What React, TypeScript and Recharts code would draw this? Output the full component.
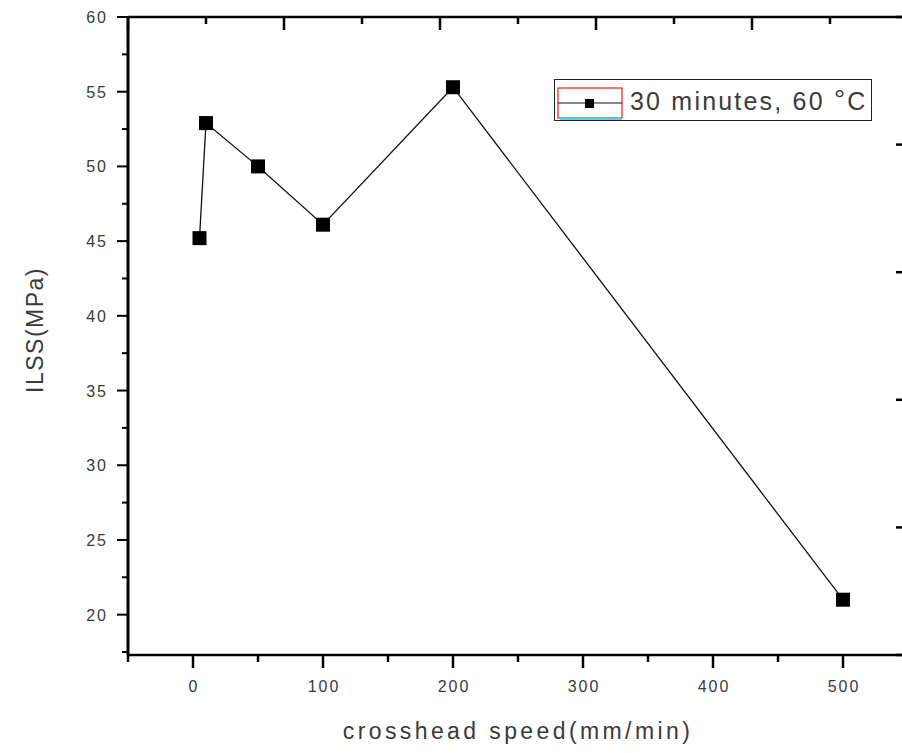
import { LineChart, Line, XAxis, YAxis, Legend, ReferenceLine } from "recharts"

// crosshead speed (mm/min) vs ILSS (MPa)
const speeds = [5, 10, 50, 100, 200, 500]
const ilss = [45.2, 52.9, 50.0, 46.1, 55.3, 21.0]
const seriesName = "30 minutes, 60 °C"

const xTicks = [-50, 0, 50, 100, 150, 200, 250, 300, 350, 400, 450, 500, 550]
const xLabelled = [0, 100, 200, 300, 400, 500]
const yTicks = [17.5, 20, 22.5, 25, 27.5, 30, 32.5, 35, 37.5, 40, 42.5, 45, 47.5, 50, 52.5, 55, 57.5, 60]
const yLabelled = [20, 25, 30, 35, 40, 45, 50, 55, 60]
// the top frame carries an unlabelled scale of its own (ten steps across)
const topMajorTicks = [-50, 70, 190, 310, 430, 550]
const topMinorTicks = [10, 130, 250, 370, 490]
const rightTicks = [0, 0.5, 1, 1.5, 2, 2.5, 3, 3.5, 4, 4.5, 5]

const data = speeds.map((s, i) => ({ speed: s, ilss: ilss[i] }))

const FONT = "'Liberation Sans', Arial, sans-serif"
const TEXT = "#3a3a3a"

// plot frame geometry (chart margins + axis sizes below)
const X_DOMAIN: [number, number] = [-50, 550]
const PLOT_LEFT = 128
const PLOT_TOP = 17
const PLOT_W = 780
const topX = (v: number) => PLOT_LEFT + ((v - X_DOMAIN[0]) / (X_DOMAIN[1] - X_DOMAIN[0])) * PLOT_W

const LeftTick = (props: any) => {
  const { x, y, payload } = props
  const major = yLabelled.includes(payload.value)
  return (
    <g>
      <line x1={x} x2={x - (major ? 11 : 6)} y1={y} y2={y} stroke="#000" strokeWidth={2} />
      {major && (
        <text x={x - 20} y={y} dy={6} textAnchor="end" fontSize={16} letterSpacing={2} fill={TEXT} fontFamily={FONT}>
          {payload.value}
        </text>
      )}
    </g>
  )
}

const BottomTick = (props: any) => {
  const { x, y, payload } = props
  const major = xLabelled.includes(payload.value)
  return (
    <g>
      <line x1={x} x2={x} y1={y} y2={y + (major ? 13 : 7)} stroke="#000" strokeWidth={2.5} />
      {major && (
        <text x={x + 1} y={y + 37} textAnchor="middle" fontSize={16} letterSpacing={2} fill={TEXT} fontFamily={FONT}>
          {payload.value}
        </text>
      )}
    </g>
  )
}

const RightTick = (props: any) => {
  const { x, y, payload } = props
  const major = Number.isInteger(payload.value)
  return <line x1={x} x2={x - (major ? 12 : 6)} y1={y} y2={y} stroke="#000" strokeWidth={2.5} />
}

const SquareDot = (props: any) => {
  const { cx, cy, index } = props
  return <rect key={`dot-${index}`} x={cx - 7} y={cy - 7} width={14} height={14} fill="#000" />
}

const LegendBox = (props: any) => {
  const name: string = props.payload?.find((e: any) => e.value === seriesName)?.value ?? seriesName
  const [before, after] = name.split("°")
  return (
    <div
      style={{
        width: 318,
        height: 42,
        boxSizing: "border-box",
        border: "1.5px solid #222",
        background: "#fff",
        position: "relative",
        fontFamily: FONT,
      }}
    >
      <svg width={70} height={42} style={{ position: "absolute", left: 2, top: 0 }}>
        <rect x={1} y={8} width={64} height={30} fill="none" stroke="#d22" strokeWidth={1.2} />
        <line x1={3} x2={65} y1={39} y2={39} stroke="#4dd8e8" strokeWidth={2} />
        <line x1={1} x2={65} y1={23} y2={23} stroke="#111" strokeWidth={1.2} />
        <rect x={28} y={19} width={9} height={9} fill="#000" />
      </svg>
      <span
        style={{
          position: "absolute",
          left: 75,
          top: 6,
          fontSize: 25,
          letterSpacing: 2.2,
          color: TEXT,
          whiteSpace: "nowrap",
          lineHeight: "30px",
        }}
      >
        {before}
        <span style={{ fontSize: 28, position: "relative", top: -1 }}>°</span>
        {after}
      </span>
    </div>
  )
}

export default function App() {
  return (
    <div
      style={{
        position: "absolute",
        left: 0,
        top: 0,
        width: 902,
        height: 753,
        overflow: "hidden",
        background: "#fff",
      }}
    >
      <LineChart width={980} height={753} data={data} margin={{ top: PLOT_TOP, right: 72, bottom: 0, left: 0 }}>
        <XAxis
          xAxisId="bottom"
          dataKey="speed"
          type="number"
          domain={X_DOMAIN}
          ticks={xTicks}
          interval={0}
          allowDataOverflow
          height={98}
          axisLine={{ stroke: "#000", strokeWidth: 2.5 }}
          tickLine={false}
          tickSize={0}
          tickMargin={0}
          tick={<BottomTick />}
          label={{
            content: (p: any) => (
              <text
                x={p.viewBox.x + p.viewBox.width / 2}
                y={739}
                textAnchor="middle"
                fontSize={23}
                letterSpacing={3.4}
                fill={TEXT}
                fontFamily={FONT}
              >
                crosshead speed(mm/min)
              </text>
            ),
          }}
        />
        <YAxis
          yAxisId="left"
          type="number"
          domain={[17.3, 60]}
          ticks={yTicks}
          interval={0}
          allowDataOverflow
          width={PLOT_LEFT}
          axisLine={{ stroke: "#000", strokeWidth: 3 }}
          tickLine={false}
          tickSize={0}
          tickMargin={0}
          tick={<LeftTick />}
          label={{
            content: (p: any) => {
              const cy = p.viewBox.y + p.viewBox.height / 2 - 6
              return (
                <text
                  x={35}
                  y={cy}
                  transform={`rotate(-90 35 ${cy})`}
                  textAnchor="middle"
                  dominantBaseline="central"
                  fontSize={23}
                  letterSpacing={1.5}
                  fill={TEXT}
                  fontFamily={FONT}
                >
                  ILSS(MPa)
                </text>
              )
            },
          }}
        />
        <YAxis
          yAxisId="right"
          orientation="right"
          mirror
          type="number"
          domain={[0, 5]}
          ticks={rightTicks}
          interval={0}
          allowDataOverflow
          axisLine={{ stroke: "#000", strokeWidth: 2.5 }}
          tickLine={false}
          tickSize={0}
          tickMargin={0}
          tick={<RightTick />}
        />

        {/* top frame */}
        <ReferenceLine xAxisId="bottom" yAxisId="left" y={60} stroke="#000" strokeWidth={2.5} />

        <Legend
          layout="horizontal"
          verticalAlign="middle"
          align="center"
          content={<LegendBox />}
          wrapperStyle={{ position: "absolute", left: 554, top: 79, width: 318, height: 42 }}
        />
        <Line
          xAxisId="bottom"
          yAxisId="left"
          dataKey="ilss"
          name={seriesName}
          type="linear"
          stroke="#111"
          strokeWidth={1.3}
          dot={<SquareDot />}
          activeDot={false}
          isAnimationActive={false}
        />
      </LineChart>

      {/* inward ticks of the top frame */}
      <svg
        width={902}
        height={60}
        style={{ position: "absolute", left: 0, top: 0, pointerEvents: "none" }}
      >
        {topMajorTicks.map((v) => (
          <line key={`tM-${v}`} x1={topX(v)} x2={topX(v)} y1={PLOT_TOP} y2={PLOT_TOP + 13} stroke="#000" strokeWidth={2.5} />
        ))}
        {topMinorTicks.map((v) => (
          <line key={`tm-${v}`} x1={topX(v)} x2={topX(v)} y1={PLOT_TOP} y2={PLOT_TOP + 7} stroke="#000" strokeWidth={2.5} />
        ))}
      </svg>
    </div>
  )
}
